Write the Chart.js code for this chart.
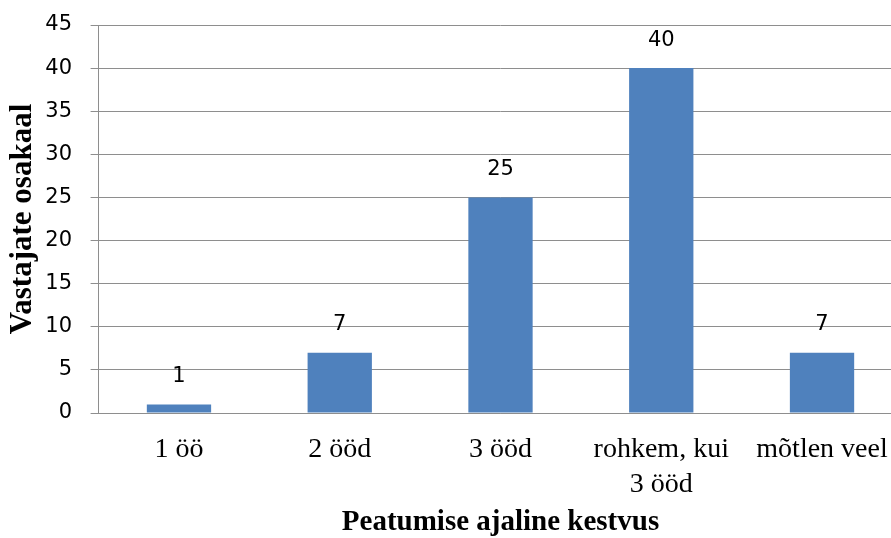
<!DOCTYPE html>
<html>
<head>
<meta charset="utf-8">
<script src="https://cdn.jsdelivr.net/npm/chart.js@4/dist/chart.umd.min.js"></script>
<style>
  html, body { margin: 0; padding: 0; background: #fff; overflow: hidden; }
  #wrap { width: 903px; height: 538px; }
</style>
</head>
<body>
<div id="wrap"><canvas id="c" width="903" height="538"></canvas></div>
<script>
// Stay length categories and share of respondents
const categories = ['1 öö', '2 ööd', '3 ööd', ['rohkem, kui', '3 ööd'], 'mõtlen veel'];
const shares = [1, 7, 25, 40, 7];
const yTicks = [0, 5, 10, 15, 20, 25, 30, 35, 40, 45];
const xTitle = 'Peatumise ajaline kestvus';
const yTitle = 'Vastajate osakaal';

const BAR = '#4F81BD';
const GRID = '#8e8e8e';
const SANS = '"DejaVu Sans", sans-serif';
const SERIF = '"Liberation Serif", "Times New Roman", serif';

// Value labels above each bar
const valueLabels = {
  id: 'valueLabels',
  afterDatasetsDraw(chart) {
    const ctx = chart.ctx;
    const meta = chart.getDatasetMeta(0);
    ctx.save();
    ctx.font = '21px ' + SANS;
    ctx.fillStyle = '#000';
    ctx.textAlign = 'center';
    ctx.textBaseline = 'middle';
    meta.data.forEach((bar, i) => {
      ctx.fillText(String(shares[i]), bar.x, bar.y - 28);
    });
    ctx.restore();
  }
};

new Chart(document.getElementById('c'), {
  type: 'bar',
  data: {
    labels: categories,
    datasets: [{
      data: shares,
      backgroundColor: BAR,
      borderWidth: 0,
      barPercentage: 1,
      categoryPercentage: 0.4
    }]
  },
  options: {
    responsive: false,
    animation: false,
    devicePixelRatio: 1,
    layout: { padding: { top: 25, right: 0.6, left: 0, bottom: 0 } },
    plugins: { legend: { display: false }, tooltip: { enabled: false } },
    scales: {
      x: {
        grid: { display: false, drawTicks: false },
        border: { display: true, color: GRID, width: 1 },
        ticks: {
          color: '#000',
          font: { family: SERIF, size: 28, lineHeight: 1.25 },
          padding: 19,
          maxRotation: 0,
          autoSkip: false
        },
        title: {
          display: true,
          text: xTitle,
          color: '#000',
          font: { family: SERIF, size: 29, weight: 'bold', lineHeight: 1.1 },
          padding: { top: 0, bottom: 0 }
        },
        afterFit(scale) {
          scale.height = 125;
          scale.paddingLeft = 0;
          scale.paddingRight = 0;
        }
      },
      y: {
        min: 0,
        max: 45,
        afterBuildTicks(scale) { scale.ticks = yTicks.map(v => ({ value: v })); },
        grid: { color: GRID, lineWidth: 1, tickLength: 8, drawTicks: true },
        border: { display: true, color: GRID, width: 1 },
        ticks: {
          color: '#000',
          font: { family: SANS, size: 21 },
          padding: 18.6
        },
        title: {
          display: true,
          text: yTitle,
          color: '#000',
          font: { family: SERIF, size: 31, weight: 'bold', lineHeight: 1.2 },
          padding: { top: 4, bottom: 0 }
        },
        afterFit(scale) {
          scale.width = 98.6;
          scale.paddingTop = 0;
          scale.paddingBottom = 0;
        }
      }
    }
  },
  plugins: [valueLabels]
});
</script>
</body>
</html>
